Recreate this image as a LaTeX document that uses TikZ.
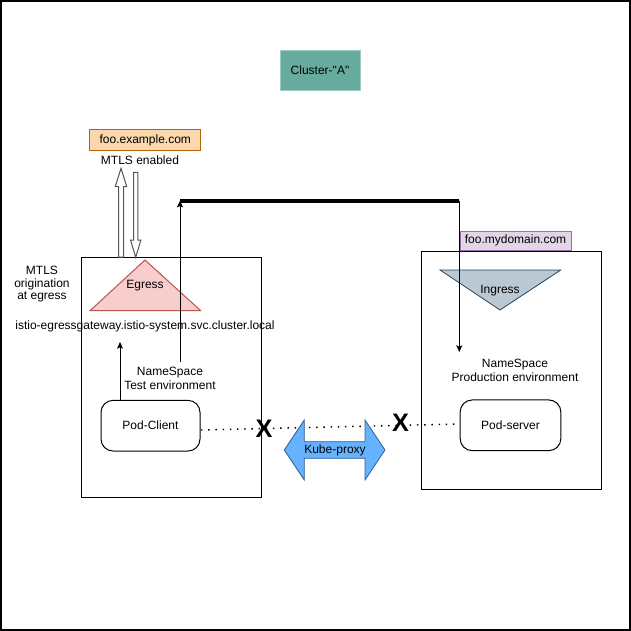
\documentclass[tikz,border=0pt]{standalone}
\usepackage{fontspec}
\setmainfont{Liberation Sans}[Ligatures=TeXOff]
\usetikzlibrary{arrows.meta,calc}

\definecolor{clusterfill}{HTML}{67AB9F}
\definecolor{clusterline}{HTML}{9CCBC2}
\definecolor{orangefill}{HTML}{FAD7AC}
\definecolor{orangeline}{HTML}{B46504}
\definecolor{purplefill}{HTML}{E1D5E7}
\definecolor{purpleline}{HTML}{9673A6}
\definecolor{egressfill}{HTML}{F8CECC}
\definecolor{egressline}{HTML}{B85450}
\definecolor{ingressfill}{HTML}{BAC8D3}
\definecolor{ingressline}{HTML}{23445D}
\definecolor{proxyfill}{HTML}{66B2FF}
\definecolor{proxyline}{HTML}{2F5F8F}
\definecolor{hollowline}{HTML}{555555}

\tikzset{
  txt/.style={font=\fontsize{9}{10.5}\selectfont, inner sep=0pt, align=center},
  tagbox/.style={txt, draw, line width=0.75pt},
  nsbox/.style={draw=black, line width=0.75pt, inner sep=0pt},
  pod/.style={txt, draw=black, line width=0.75pt, rounded corners=9pt,
    minimum height=38pt},
  arr/.style={line width=0.75pt, -{Stealth[length=5pt,width=4.5pt,inset=1pt]}},
  hollow/.style={draw=hollowline, fill=white, line width=0.75pt, line join=miter},
  xmark/.style={font=\fontsize{19}{21}\selectfont\bfseries, inner sep=0pt},
  dots/.style={line width=1.1pt, dash pattern=on 1.1pt off 4.3pt},
}

\begin{document}
\begin{tikzpicture}[x=0.75pt, y=-0.75pt]
  \useasboundingbox (0,0) rectangle (631,631);
  % page frame
  \draw[line width=1.1pt] (1,1) rectangle (630,630);

  % cluster title
  \node[txt, draw=clusterline, fill=clusterfill, minimum width=60pt,
        minimum height=30pt] (cluster) at (320,70) {Cluster-"A"};

  % external host
  \node[tagbox, draw=orangeline, fill=orangefill, minimum width=83pt,
        minimum height=15.5pt] (fooext) at (145.3,140.3) {foo.example.com};
  \node[txt] (mtlsen) at (140,160.5) {MTLS enabled};

  % namespaces
  \node[nsbox, minimum width=135pt, minimum height=180pt] (nstest) at (171,377) {};
  \node[nsbox, minimum width=135pt, minimum height=178.5pt] (nsprod) at (511,370) {};

  \node[tagbox, draw=purpleline, fill=purplefill, minimum width=83.25pt,
        minimum height=14.25pt] (foodom) at (515.5,240.5) {foo.mydomain.com};

  % egress gateway
  \draw[fill=egressfill, draw=egressline, line width=0.75pt]
    (145,260) -- (200.7,310.7) -- (90,310.7) -- cycle;
  \node[txt] (egress) at (145,286) {Egress};

  % ingress gateway
  \draw[fill=ingressfill, draw=ingressline, line width=0.6pt]
    (440,270) -- (560.7,270) -- (500,310) -- cycle;
  \node[txt] (ingress) at (500,291) {Ingress};

  % hollow arrows between egress and the external host
  \draw[hollow] (118.5,257) -- (118.5,186.5) -- (115.3,186.5) -- (121,168.3)
    -- (126.7,186.5) -- (123.5,186.5) -- (123.5,257) -- cycle;
  \draw[hollow] (133.5,172.3) -- (137.9,172.3) -- (137.9,240) -- (140.9,240)
    -- (135.7,257.3) -- (130.5,240) -- (133.5,240) -- cycle;

  % labels
  \node[txt, font=\fontsize{9}{9.5}\selectfont] (mtlsorig) at (42,284.3)
    {MTLS\\origination\\at egress};
  \node[txt] (gwname) at (145,326.7)
    {istio-egressgateway.istio-system.svc.cluster.local};
  \node[txt] (nstestlbl) at (170,378.7) {NameSpace\\Test environment};
  \node[txt] (nsprodlbl) at (515,370.3) {NameSpace\\Production environment};

  % pods
  \node[pod, minimum width=74.25pt] (podclient) at (150.5,425.7) {Pod-Client};
  \node[pod, minimum width=75.5pt] (podserver) at (510.5,425.3) {Pod-server};

  % client to gateway
  \coordinate (gwin) at (120,342);
  \draw[arr] (podclient.north -| gwin) -- (gwin);

  % routing path across the cluster
  \coordinate (rtstart) at (180,362);
  \coordinate (rtup) at (180,200.7);
  \coordinate (rtover) at (459.3,200.7);
  \coordinate (rtend) at (459.3,352);
  \draw[arr] (rtstart) -- (rtup);
  \draw[line width=3pt] (rtup) -- (rtover);
  \draw[arr] (rtover) -- (rtend);

  % blocked pod to pod traffic
  \coordinate (dotl) at (201,430);
  \coordinate (dotr) at (460,424);
  \draw[dots] (dotl) -- (dotr);
  \node[xmark] (xleft) at (264,428.5) {X};
  \node[xmark] (xright) at (400.5,422.5) {X};

  % kube-proxy
  \draw[fill=proxyfill, draw=proxyline, line width=0.6pt]
    (284.3,450) -- (304.3,420) -- (304.3,441.7) -- (365,441.7) -- (365,420)
    -- (385,450) -- (365,480) -- (365,458.3) -- (304.3,458.3) -- (304.3,480)
    -- cycle;
  \node[txt] (kubeproxy) at (335,450) {Kube-proxy};
\end{tikzpicture}
\end{document}
